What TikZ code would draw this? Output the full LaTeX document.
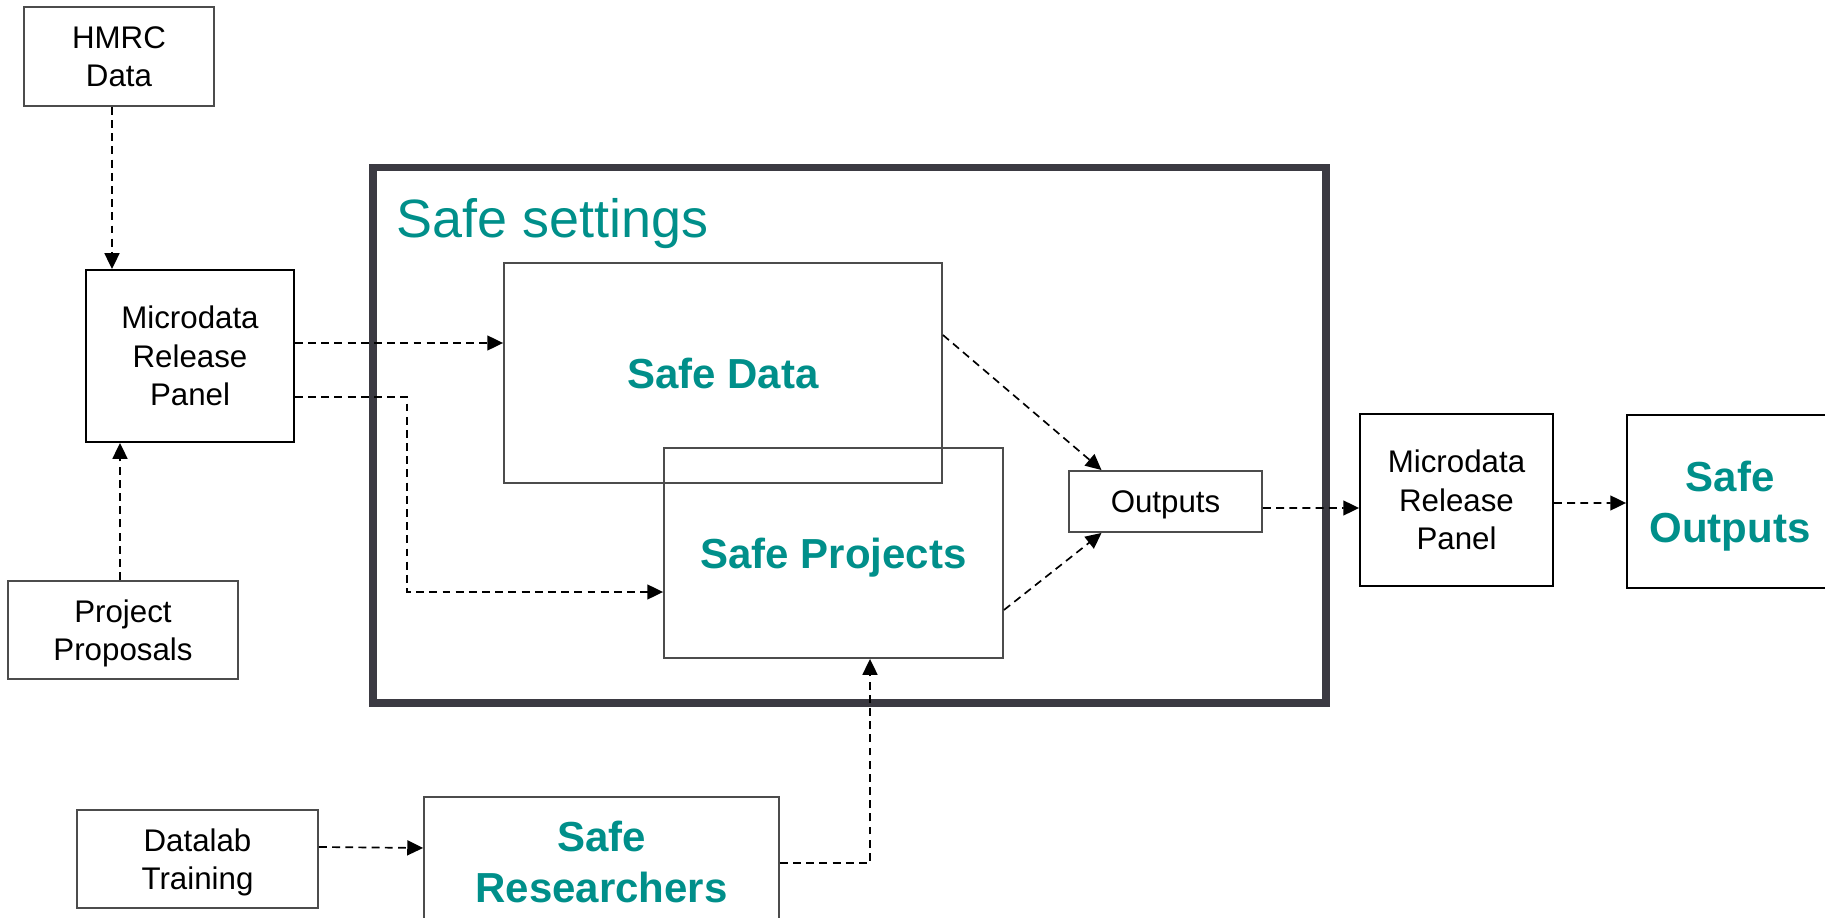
\documentclass[tikz,border=0pt]{standalone}
\usepackage{fontspec}
\setmainfont{Liberation Sans}
\usetikzlibrary{arrows.meta,calc}
\definecolor{safeteal}{RGB}{0,143,138}
\definecolor{framegray}{RGB}{59,58,66}
\newcommand\nodepth[1]{\raisebox{0pt}[\height][0pt]{#1}}
\begin{document}
\begin{tikzpicture}[x=0.02cm,y=-0.02cm,
  box/.style={draw=black!70,line width=1.1pt,inner sep=0pt,align=center,font=\fontsize{17.8}{21.8}\selectfont},
  panel/.style={box,draw=black},
  safe/.style={box,text=safeteal,font=\bfseries\fontsize{23.9}{28.8}\selectfont},
  flow/.style={dash pattern=on 4.5pt off 3pt,line width=0.95pt,-{Triangle[length=9pt,width=8.5pt]}}]
  \useasboundingbox (0,0) rectangle (1825,918);
  \draw[framegray,line width=4.5pt] (373,167.5) rectangle (1326,703);
  \node[anchor=base west,inner sep=0pt,text=safeteal,font=\fontsize{30.7}{36}\selectfont] (settings) at (396,238) {Safe settings};
  \node[box,minimum width=3.8cm,minimum height=1.98cm] (hmrc) at (119,56.5) {HMRC\\Data};
  \node[panel,minimum width=4.16cm,minimum height=3.44cm] (mrpA) at (190,356) {Microdata\\Release\\ Panel};
  \node[box,minimum width=4.6cm,minimum height=1.96cm] (pp) at (123,630) {Project\\\nodepth{Proposals}};
  \node[box,minimum width=4.82cm,minimum height=1.96cm] (dt) at (197.5,859) {Datalab\\\nodepth{Training}};
  \node[safe,minimum width=7.1cm,minimum height=2.6cm] (sr) at (601.5,862) {Safe\\Researchers};
  \node[safe,minimum width=8.76cm,minimum height=4.4cm] (safedata) at (723,373) {Safe Data};
  \node[safe,minimum width=6.78cm,minimum height=4.2cm] (safeproj) at (833.5,553) {\nodepth{Safe Projects}};
  \node[box,minimum width=3.86cm,minimum height=1.22cm] (outputs) at (1165.5,501.5) {\nodepth{Outputs}};
  \node[panel,minimum width=3.86cm,minimum height=3.44cm] (mrpB) at (1456.5,500) {Microdata\\Release\\Panel};
  \node[safe,draw=black,minimum width=4.12cm,minimum height=3.46cm] (safeout) at (1730,501.5) {Safe\\\nodepth{Outputs}};
  \draw[flow] ([xshift=-0.14cm]hmrc.south) -- ([xshift=-0.14cm]hmrc.south |- mrpA.north);
  \draw[flow] ([xshift=-0.06cm]pp.north) -- ([xshift=-0.06cm]pp.north |- mrpA.south);
  \draw[flow] ([yshift=0.26cm]mrpA.east) -- ([yshift=0.26cm]mrpA.east -| safedata.west);
  \draw[flow] ($(mrpA.east)+(0,41)$) -- ++(112,0) |- ($(safeproj.west)+(0,39)$);
  \draw[flow] ($(safedata.east)+(0,-38)$) -- ($(outputs.north)+(-64,0)$);
  \draw[flow] ($(safeproj.east)+(0,57)$) -- ($(outputs.south)+(-64,0)$);
  \draw[flow] ($(outputs.east)+(0,6.5)$) -- ($(mrpB.west)+(0,8)$);
  \draw[flow] ($(mrpB.east)+(0,3)$) -- ($(safeout.west)+(0,1.5)$);
  \draw[flow] ($(dt.east)+(0,-12)$) -- ($(sr.west)+(0,-14)$);
  \draw[flow] ($(sr.east)+(0,1)$) -| ($(safeproj.south)+(36.5,0)$);
\end{tikzpicture}
\end{document}
